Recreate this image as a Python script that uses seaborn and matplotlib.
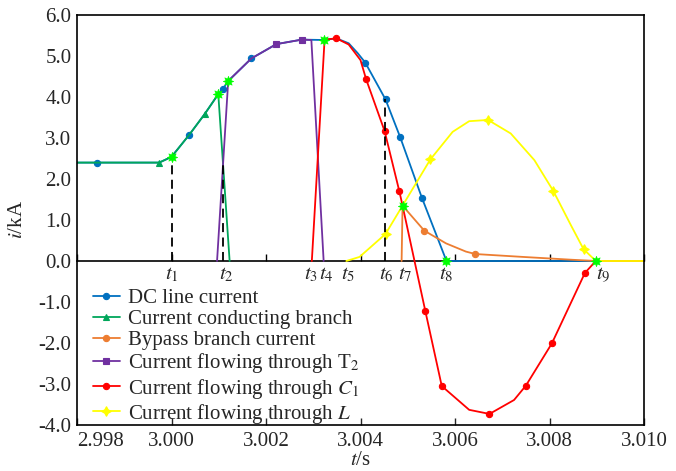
import numpy as np
import pandas as pd
import seaborn as sns
import matplotlib.pyplot as plt

# values (t in s, i in kA)
dc_t = [2.998, 2.99842, 2.99974, 3.0000, 3.00037, 3.0007, 3.00099, 3.00109, 3.0012, 3.00169,
        3.00222, 3.00276, 3.00322, 3.00349, 3.00375, 3.00394, 3.0041, 3.00453, 3.00484, 3.0053,
        3.00582, 3.010]
dc_i = [2.40, 2.40, 2.40, 2.54, 3.07, 3.58, 4.07, 4.20, 4.39, 4.94,
        5.29, 5.40, 5.39, 5.43, 5.31, 5.07, 4.84, 3.94, 3.02, 1.54,
        0.0, 0.0]
dc_marks = [1, 4, 7, 9, 16, 17, 18, 19]

cond_t = [2.998, 2.99974, 3.0000, 3.00037, 3.0007, 3.00099, 3.00123]
cond_i = [2.40, 2.40, 2.54, 3.07, 3.58, 4.07, 0.0]
cond_marks = [1, 4]

byp_t = [3.00487, 3.00489, 3.00535, 3.00581, 3.00623, 3.00643, 3.00743, 3.00848, 3.009, 3.010]
byp_i = [0.0, 1.35, 0.74, 0.43, 0.23, 0.17, 0.10, 0.03, 0.0, 0.0]
byp_marks = [2, 5]

t2_t = [3.000964, 3.0012, 3.00169, 3.00222, 3.00276, 3.00296, 3.00322]
t2_i = [0.0, 4.39, 4.94, 5.29, 5.40, 5.39, 0.0]
t2_marks = [3, 4]

c1_t = [3.00297, 3.00324, 3.00349, 3.00375, 3.0040, 3.00412, 3.00451, 3.00482, 3.00489,
        3.00537, 3.00572, 3.0063, 3.00673, 3.00725, 3.0075, 3.00805, 3.00875, 3.00898, 3.010]
c1_i = [0.0, 5.40, 5.43, 5.28, 4.90, 4.43, 3.17, 1.71, 1.35,
        -1.21, -3.05, -3.63, -3.73, -3.39, -3.04, -2.01, -0.29, 0.0, 0.0]
c1_marks = [2, 5, 6, 7, 9, 10, 12, 14, 15, 16]

l_t = [3.0037, 3.00398, 3.00453, 3.00489, 3.00548, 3.00595, 3.0063, 3.0067, 3.00718, 3.00768,
       3.00808, 3.00845, 3.00872, 3.00898, 3.010]
l_i = [0.0, 0.10, 0.66, 1.35, 2.48, 3.15, 3.41, 3.44, 3.11, 2.46,
       1.71, 0.88, 0.29, 0.0, 0.0]
l_marks = [2, 4, 7, 10, 12]

# switching instants
star_t = [3.0000, 3.00099, 3.0012, 3.00322, 3.00489, 3.00582, 3.00898]
star_i = [2.54, 4.07, 4.39, 5.39, 1.35, 0.0, 0.0]

inst_t = [3.0000, 3.00116, 3.00296, 3.00327, 3.00374, 3.00455, 3.00494, 3.00581, 3.00913]
inst_labels = ['$t_1$', '$t_2$', '$t_3$', '$t_4$', '$t_5$', '$t_6$', '$t_7$', '$t_8$', '$t_9$']
dash_t = [3.0000, 3.00109, 3.00451]
dash_top = [2.54, 2.46, 3.94]

x_ticks = [2.998, 3.000, 3.002, 3.004, 3.006, 3.008, 3.010]
y_ticks = [-4.0, -3.0, -2.0, -1.0, 0.0, 1.0, 2.0, 3.0, 4.0, 5.0, 6.0]

series = [
    ('DC line current', dc_t, dc_i, dc_marks, '#0070C0', 'o', 4.5),
    ('Current conducting branch', cond_t, cond_i, cond_marks, '#00A65A', '^', 4.5),
    ('Bypass branch current', byp_t, byp_i, byp_marks, '#ED7D31', 'o', 4.5),
    ('Current flowing through T$_2$', t2_t, t2_i, t2_marks, '#7030A0', 's', 4.5),
    ('Current flowing through $C_1$', c1_t, c1_i, c1_marks, '#FF0000', 'o', 4.5),
    ('Current flowing through $L$', l_t, l_i, l_marks, '#FFFF00', (4, 1, 0), 7),
]

FS = 15

sns.set_style("ticks")
plt.rcParams['font.family'] = ['Liberation Serif', 'DejaVu Serif']
plt.rcParams['mathtext.fontset'] = 'stix'
plt.rcParams['axes.unicode_minus'] = False
plt.rcParams['font.size'] = FS

fig = plt.figure(figsize=(6.76, 4.71), dpi=100)
ax = fig.add_axes([77 / 676, 46 / 471, 567 / 676, 410 / 471])

# zero line with its own ticks
secax = ax.secondary_xaxis(0.4)
secax.set_xticks(x_ticks)
secax.tick_params(axis='x', direction='in', length=5, width=1, color='black',
                  labelbottom=False, labeltop=False)
for s in secax.spines.values():
    s.set_color('black')
    s.set_linewidth(1.2)

handles = []
for name, tt, ii, marks, col, mk, ms in series:
    df = pd.DataFrame({'t': tt, 'i': ii})
    sns.lineplot(data=df, x='t', y='i', ax=ax, color=col, lw=1.3, marker=mk, markersize=ms,
                 markevery=marks, markeredgewidth=0.8, markeredgecolor=col,
                 estimator=None, sort=False, label=name, legend=False)
    handles.append(ax.lines[-1])

sns.scatterplot(x=star_t, y=star_i, ax=ax, marker=(8, 1, 0), s=55, color='#00FF00',
                edgecolor='#00FF00', linewidth=0.5, zorder=5, legend=False)

ax.vlines(dash_t, 0, dash_top, colors='black', linestyles=(0, (5, 3)), lw=1.3, zorder=4)
for tx, lab in zip(inst_t, inst_labels):
    ax.text(tx, -0.33, lab, ha='center', va='center', fontsize=FS)

ax.set_xlim(2.998, 3.010)
ax.set_ylim(-4.0, 6.0)
ax.set_xticks(x_ticks)
ax.set_xticklabels([f'{v:.3f}' for v in x_ticks])
ax.get_xticklabels()[0].set_ha('left')
ax.set_yticks(y_ticks)
ax.set_yticklabels([f'{v:.1f}' for v in y_ticks])
ax.tick_params(axis='x', direction='in', length=5, width=1, pad=5, labelsize=FS)
ax.tick_params(axis='y', length=0, pad=4, labelsize=FS)
for s in ax.spines.values():
    s.set_color('black')
    s.set_linewidth(1.2)
ax.set_xlabel('$t$/s', fontsize=FS, labelpad=0)
ax.set_ylabel('$i$/kA', fontsize=FS, labelpad=8)

ax.legend(handles=handles, loc='lower left', bbox_to_anchor=(0.02, -0.012), frameon=False,
          fontsize=FS, handlelength=1.3, handletextpad=0.4, labelspacing=0.06,
          borderpad=0.1, borderaxespad=0.1)

plt.savefig('out.png', dpi=100)
plt.close()
